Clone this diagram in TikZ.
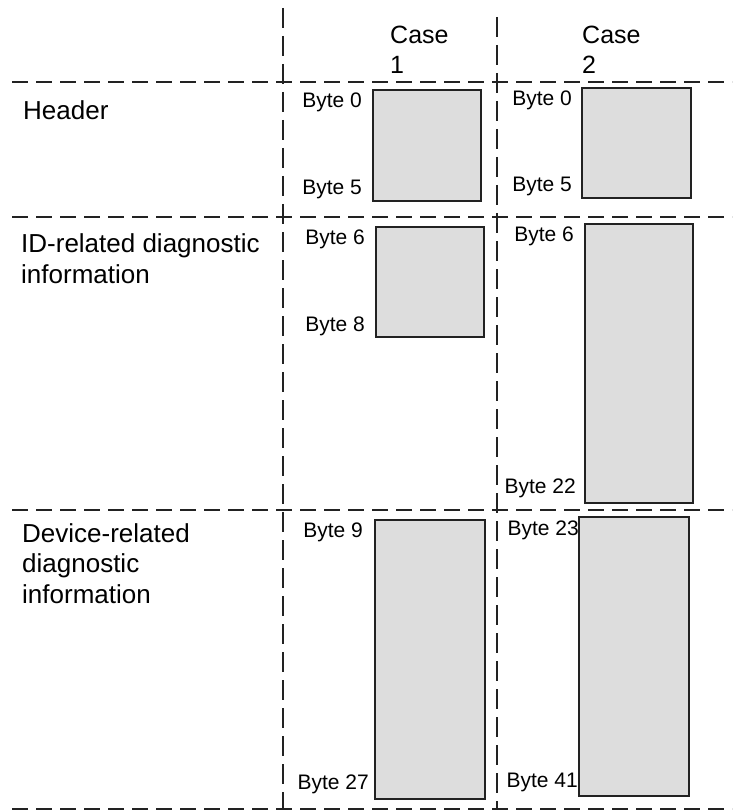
\documentclass[tikz,border=0pt]{standalone}
\usepackage{fontspec}
\setmainfont{Liberation Sans}
\definecolor{boxfill}{HTML}{DDDDDD}
\definecolor{linecol}{HTML}{222222}
\begin{document}
\begin{tikzpicture}[x=1pt,y=-1pt,
  hline/.style={draw=linecol,line width=1.3pt,dash pattern=on 16pt off 8pt},
  vline/.style={draw=linecol,line width=1.3pt,dash pattern=on 20pt off 8pt},
  gbox/.style={draw=linecol,fill=boxfill,line width=1.2pt,inner sep=0pt,outer sep=0pt,anchor=north west},
  rowlab/.style={anchor=base west,inner sep=0pt,align=left,font=\fontsize{26}{30.5}\selectfont},
  caselab/.style={anchor=base west,inner sep=0pt,align=left,font=\fontsize{25}{30}\selectfont},
  bytelab/.style={anchor=base east,inner sep=0pt,font=\fontsize{21}{24}\selectfont}]
\useasboundingbox (0,0) rectangle (732,810);
% grid lines
\coordinate (h1a) at (12,82);  \coordinate (h1b) at (732,82);
\coordinate (h2a) at (12,217); \coordinate (h2b) at (732,217);
\coordinate (h3a) at (12,510); \coordinate (h3b) at (732,510);
\coordinate (h4a) at (12,809); \coordinate (h4b) at (732,809);
\coordinate (v1a) at (283,8);  \coordinate (v1b) at (283,810);
\coordinate (v2a) at (497,17); \coordinate (v2b) at (497,810);
\draw[hline] (h1a) -- (h1b);
\draw[hline] (h2a) -- (h2b);
\draw[hline] (h3a) -- (h3b);
\draw[hline] (h4a) -- (h4b);
\draw[vline] (v1a) -- (v1b);
\draw[vline] (v2a) -- (v2b);
% column heads (anchor = baseline of last line)
\node[caselab] (case1) at (390,74) {Case\\1};
\node[caselab] (case2) at (582,74) {Case\\2};
% row labels
\node[rowlab] (rhead) at (23,120) {Header};
\node[rowlab] (rid) at (21,283) {ID-related diagnostic\\information};
\node[rowlab] (rdev) at (22,603) {Device-related\\diagnostic\\information};
% boxes
\node[gbox,minimum width=108pt,minimum height=111pt] (c1h) at (373,90) {};
\node[gbox,minimum width=109pt,minimum height=110pt] (c2h) at (582,88) {};
\node[gbox,minimum width=108pt,minimum height=110pt] (c1i) at (376,227) {};
\node[gbox,minimum width=108pt,minimum height=279pt] (c2i) at (585,224) {};
\node[gbox,minimum width=110pt,minimum height=279pt] (c1d) at (375,520) {};
\node[gbox,minimum width=110pt,minimum height=279pt] (c2d) at (579,517) {};
% byte labels
\node[bytelab] (b10) at (362,108) {Byte 0};
\node[bytelab] (b15) at (362,195) {Byte 5};
\node[bytelab] (b20) at (572,106) {Byte 0};
\node[bytelab] (b25) at (572,192) {Byte 5};
\node[bytelab] (b16) at (365,244) {Byte 6};
\node[bytelab] (b18) at (365,331) {Byte 8};
\node[bytelab] (b26) at (574,241) {Byte 6};
\node[bytelab] (b222) at (576,493) {Byte 22};
\node[bytelab] (b19) at (363,537) {Byte 9};
\node[bytelab] (b127) at (369,789) {Byte 27};
\node[bytelab] (b223) at (579,535) {Byte 23};
\node[bytelab] (b241) at (578,787) {Byte 41};
\end{tikzpicture}
\end{document}
